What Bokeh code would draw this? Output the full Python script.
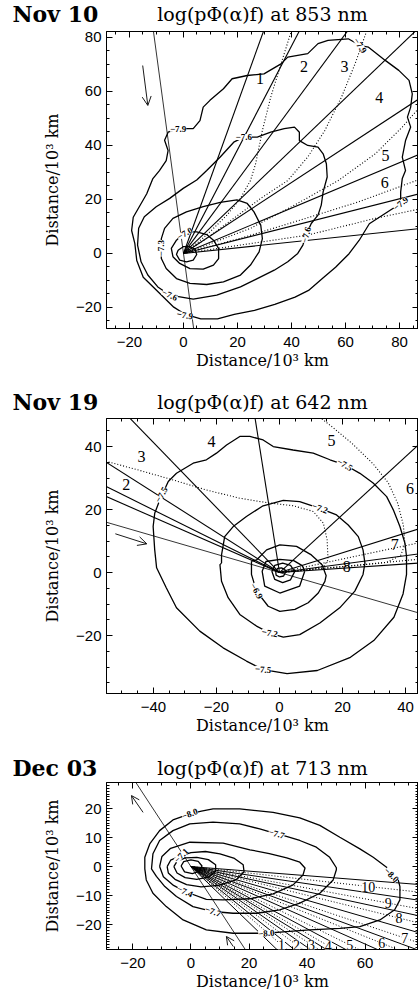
import math
from bokeh.plotting import figure
from bokeh.models import (ColumnDataSource, LabelSet, Arrow, OpenHead,
                          LinearAxis, FixedTicker, Range1d, CustomJSTickFormatter)
from bokeh.layouts import column
from bokeh.embed import file_html
from bokeh.resources import INLINE
from bokeh.core.properties import value

SERIF = "DejaVu Serif"
SANS = "Liberation Sans"
AXIS_TITLE = "Distance/10³ km"

# ---------------- Nov 10, 853 nm ----------------
NOV10_TICKS_X = [-20, 0, 20, 40, 60, 80]
NOV10_TICKS_Y = [-20, 0, 20, 40, 60, 80]
NOV10_SOLID_DEG = [70.2, 62.5, 53.6, 43.8, 33.3, 22.8, 14.2, 6.0]
NOV10_SUN_DEG = 97.7
NOV10_SECTOR_TEXT = ["1", "2", "3", "4", "5", "6"]
NOV10_SECTOR_X = [28.3, 44.6, 59.6, 72.5, 74.8, 74.5]
NOV10_SECTOR_Y = [64.9, 69.3, 69.3, 57.9, 36.3, 26.3]
NOV10_DOTTED = [
    [(0, 0), (4.9, 3.7), (9.8, 8), (16.1, 14.2), (21.1, 20.4), (24.8, 27), (26.7, 33.2),
     (29.2, 45.5), (32.3, 57.9), (36.1, 70.2), (40, 82.6), (41, 86)],
    [(0, 0), (8.6, 5.6), (18.6, 13), (28.6, 20.4), (38.6, 27), (46, 35.7), (52.3, 45.5),
     (58.5, 57.9), (63.5, 70.2), (67.9, 82.6), (69, 86)],
    [(0, 0), (8.6, 3.1), (24.8, 9.3), (41.1, 17.9), (57.3, 27), (71, 36.9), (81, 46.8), (90, 57)],
    [(0, 0), (21.1, 5.6), (41.1, 11.7), (64.8, 19.1), (90, 28.4)],
    [(0, 0), (21.1, 3.1), (46, 6.8), (71, 13), (90, 17)],
]
NOV10_LEVEL_79 = [(80.4, 18.5), (80.4, 22.8), (81, 27.8), (82.2, 30.7), (81, 35.7), (82.2, 41.8),
                  (84.1, 46.8), (82.9, 50.5), (84.1, 54.2), (84.7, 59.1), (83.5, 64.1), (79.7, 67.8),
                  (74.7, 71.5), (68.5, 76.4), (65.4, 77.0), (61, 79.5), (53.5, 78.9), (49.8, 77.7),
                  (46, 74), (38.6, 72.7), (36.1, 70.2), (29.8, 66.5), (23.6, 65.9), (18, 64.7),
                  (14.8, 61), (9.8, 56.7), (7.3, 54.2), (6.1, 49.2), (3.6, 46.2), (-2, 46.2),
                  (-5.7, 44.9), (-7, 41.9), (-5.7, 38.1), (-6.4, 34.4), (-8.9, 30.7), (-11.4, 27.6),
                  (-13.6, 22.1), (-18.6, 13.4), (-19.2, 8.5), (-18, 3.6), (-17.3, -2.6), (-14.9, -8.8),
                  (-9.9, -13.7), (-3.6, -19.9), (0.7, -22.6), (6.4, -24.2), (12.6, -24.2), (18.8, -22.6),
                  (26.3, -21.1), (33.8, -18.9), (41.3, -16.2), (46.3, -13.7), (51.3, -9.4), (56.3, -5.1),
                  (61.3, -0.1), (65, 4.8), (68.8, 11), (72.5, 13.4), (76.5, 16), (80.4, 18.5)]
NOV10_LEVEL_76 = [(22.3, 43.1), (27.3, 43.1), (32.3, 44.9), (37.3, 46.2), (41.1, 46.8), (42.9, 44.9),
                  (42.9, 41.8), (46, 40), (49.8, 39.4), (51.7, 36.9), (52.9, 33.2), (53.2, 28.3),
                  (51.7, 22.8), (51, 17.9), (49.8, 14.2), (47.3, 11.1), (45.4, 6.8), (44.2, 3.1),
                  (42.3, 0), (38.6, -3.1), (33.6, -6.2), (27.3, -9.3), (21.1, -12.4), (12.3, -15.4),
                  (3.6, -16.9), (-5.1, -15.4), (-9.5, -12.4), (-13.2, -8), (-15.7, -3.1), (-17, 3.1),
                  (-16.6, 9.3), (-14.5, 13.6), (-10.1, 17.3), (-5.1, 20.4), (-0.1, 24.1), (4.9, 27.2),
                  (8.6, 30.7), (13.6, 35.7), (18.6, 41.2), (22.3, 43.1)]
NOV10_LEVEL_73 = [(-8.3, 1.9), (-8.2, -1.9), (-6.4, -5.6), (-2.6, -9.3), (2.4, -11.1), (8.6, -11.5),
                  (14.8, -10.5), (21.1, -8.0), (24.8, -4.3), (28, 0.6), (29.2, 5.5), (28.6, 10.5),
                  (26.1, 15.4), (23.6, 18.5), (19.8, 19.8), (13.6, 18.9), (7.3, 17.3), (1.1, 15.4),
                  (-3.9, 13), (-7, 9.3), (-8.2, 5.5), (-8.3, 1.9)]
NOV10_LEVEL_70 = [(0.5, 7.8), (-2.6, 4.9), (-4.5, 1.9), (-3.9, -1.2), (-1.4, -3.7), (2.4, -5.6),
                  (7.3, -5.8), (11.1, -4.3), (13, -1.9), (13, 1.9), (11.1, 4.9), (8.6, 7), (4.9, 8),
                  (2.4, 8), (0.5, 7.8)]
NOV10_LEVEL_67 = [(-2, 1.2), (-2.6, -0.4), (-1.4, -2.5), (1.1, -3.1), (3.6, -2.5), (4.9, -0.4),
                  (4.2, 1.6), (2.4, 2.5), (-0.1, 2.5), (-2, 1.2)]
NOV10_CLABEL_TEXT = ["−7.9", "−7.9", "−7.6", "−7.6", "−7.9", "−7.3", "−7.6", "−7.9", "−7.0"]
NOV10_CLABEL_X = [-2.0, 65.4, 22.3, 45.4, 80.4, -8.3, -5.1, 0.5, 0.5]
NOV10_CLABEL_Y = [46.2, 77.0, 43.1, 6.8, 18.5, 1.9, -15.4, -22.9, 7.4]
NOV10_CLABEL_DEG = [0, -55, 0, 75, 40, 90, -25, -10, 30]
NOV10_ARROW = [(-15.1, 69.6), (-13.2, 54.8)]

# ---------------- Nov 19, 642 nm ----------------
NOV19_TICKS_X = [-40, -20, 0, 20, 40]
NOV19_TICKS_Y = [-20, 0, 20, 40]
NOV19_SOLID_DEG = [3.9, 7.6, 17.4, 42.6, 99.0, 134.1, 147.5, 153.6, 156.3]
NOV19_SUN_DEG = 163.8
NOV19_SECTOR_TEXT = ["2", "3", "4", "5", "6", "7", "8"]
NOV19_SECTOR_X = [-48.6, -43.8, -21.6, 16.5, 41.4, 36.6, 21.3]
NOV19_SECTOR_Y = [27.8, 36.8, 41.6, 41.9, 26.8, 8.8, 2.0]
NOV19_DOTTED = [
    [(0, 0), (12, 1.2), (24, 2.2), (34, 3.2), (38.5, 5.5), (39.8, 9), (39.3, 15), (37.5, 22),
     (34.5, 28.5), (29.7, 34.5), (23, 41), (17, 46), (12.5, 49.5), (10, 52)],
    [(0, 0), (9, 0.8), (14, 2), (15.4, 4), (15.1, 10.4), (13.9, 15.7), (10.7, 19.4), (4.3, 21.2),
     (-4.1, 22.2), (-12.6, 23.6), (-23.2, 26.2), (-33.8, 29.4), (-44.3, 32.4), (-56, 35.6)],
    [(0, 0), (20, 4.3), (46, 9.8)],
    [(0, 0), (22, 2.1), (46, 4.4)],
]
NOV19_LEVEL_75 = [(-38, 23), (-35.3, 28.9), (-32.7, 31.5), (-27.4, 34.7), (-23.2, 35.8), (-20, 37.9),
                  (-16.8, 40.5), (-12.6, 43.2), (-9.4, 43.2), (-5.2, 42.1), (-2, 40), (4.3, 38.9),
                  (10.7, 37.9), (16, 35.8), (20.7, 34.2), (25.5, 31.5), (29.7, 28.4), (34, 24.1),
                  (36.1, 19.9), (38.2, 14.6), (39.8, 9.3), (40.3, 5.1), (40.3, -0.6), (39.2, -6.8),
                  (36.3, -14.2), (29.9, -21.6), (22.5, -26.9), (12, -31.1), (2.4, -32.1), (-5.2, -30.8),
                  (-10.5, -28.1), (-17.9, -23.9), (-25.3, -18.6), (-32.7, -11.2), (-35.9, -4.9),
                  (-39, 1.5), (-39.6, 7.2), (-40.1, 14.6), (-39.6, 18.8), (-38, 23)]
NOV19_LEVEL_72 = [(-18.4, 3), (-18.4, 5.6), (-17.4, 11.4), (-14.7, 14.6), (-10.5, 17.8), (-5.2, 21.2),
                  (1.2, 22.9), (6.4, 22.5), (12.8, 20.4), (18.1, 18.3), (21.8, 15.1), (25, 11.4),
                  (26.5, 7.2), (27.1, 3), (26.5, -0.6), (23.9, -5.9), (19.1, -11.2), (12.8, -16),
                  (6.4, -19.7), (1.2, -20.5), (-3.1, -19.2), (-7.3, -17), (-12.6, -13.3), (-16.3, -8),
                  (-18.4, -2.8), (-18.9, 2.5), (-18.4, 3)]
NOV19_LEVEL_69 = [(-8.9, 3.6), (-7.3, 4), (-4.1, 7.2), (0.1, 8.8), (5.4, 8.3), (10.1, 5.6),
                  (13.5, 2.5), (14.8, -1), (14.4, -2.8), (12.3, -6.5), (9.1, -9.6), (4.9, -11.7),
                  (0.1, -12.3), (-3.6, -10.7), (-7.3, -5.9), (-8.9, -0.6), (-8.9, 3.6)]
NOV19_LEVEL_66 = [(8, 0.4), (6.4, -4.3), (0.1, -6.5), (-4.7, -4.3), (-5.5, 0.4), (-4.3, 3.5),
                  (0.1, 4.2), (4.5, 3.8), (7.2, 2.2), (8, 0.4)]
NOV19_LEVEL_63 = [(4.8, 0.3), (3.5, -2.3), (1, -3.2), (-1.5, -2.2), (-2.4, 0.3), (-1.5, 2.3),
                  (1, 3), (3.5, 2.3), (4.8, 0.3)]
NOV19_LEVEL_60 = [(2, 0.3), (1.3, -1.1), (0, -1.4), (-1.1, -0.8), (-1.2, 0.4), (-0.6, 1.3),
                  (0.6, 1.5), (1.6, 1.1), (2, 0.3)]
NOV19_CLABEL_TEXT = ["−7.5", "−7.5", "−7.2", "−6.9", "−7.2", "−7.5"]
NOV19_CLABEL_X = [20.7, -37.5, 12.8, -7.3, -3.1, -5.2]
NOV19_CLABEL_Y = [34.2, 24.7, 20.4, -5.9, -19.2, -30.8]
NOV19_CLABEL_DEG = [-30, 60, -20, -60, -10, -5]
NOV19_ARROW = [(-52.1, 12.3), (-42.1, 9.1)]

# ---------------- Dec 03, 713 nm ----------------
DEC03_TICKS_X = [-20, 0, 20, 40, 60]
DEC03_TICKS_Y = [-20, -10, 0, 10, 20]
DEC03_SOLID_DEG = [-44.0, -38.8, -34.8, -31.5, -28.2, -24.0, -20.2, -16.2, -12.2, -8.4, -4.5]
DEC03_DOTTED_DEG = [-40.9, -36.6, -33.0, -30.0, -26.3, -21.9, -18.5, -13.9, -10.5, -6.4]
DEC03_SUN_DEG = 123.2
DEC03_SECTOR_TEXT = ["1", "2", "3", "4", "5", "6", "7", "8", "9", "10"]
DEC03_SECTOR_X = [31.2, 36.4, 41.5, 47.3, 54.7, 65.7, 73.7, 71.7, 68.0, 61.1]
DEC03_SECTOR_Y = [-27.0, -27.0, -27.0, -27.3, -27.0, -26.4, -24.7, -17.8, -12.6, -6.9]
DEC03_LEVEL_80 = [(-0.4, 18.2), (-6.2, 16.1), (-10.8, 12.4), (-14.2, 7.8), (-15.9, 3.2), (-15.9, -0.8),
                  (-15.4, -4.6), (-13.1, -9.2), (-8.5, -13.8), (-2.7, -18.4), (5.3, -21.8), (14.5, -23),
                  (26, -23), (32.9, -22.4), (40.9, -21.8), (51.3, -21.3), (58.2, -20.7), (65.1, -18.4),
                  (70.2, -14.9), (72, -11.5), (72, -6.9), (71.4, -4.6), (69.1, -2.9), (67.4, -0.2),
                  (62.8, 3.2), (58.2, 6.1), (51.3, 10.1), (44.4, 14.2), (37.5, 16.8), (28.3, 18.7),
                  (16.8, 19.9), (7.6, 19.9), (3.6, 19.1), (-0.4, 18.2)]
DEC03_LEVEL_77 = [(29.5, 11.3), (23.7, 13), (16.8, 14.7), (7.6, 15.3), (-0.4, 14.7), (-6.2, 12.4),
                  (-10.8, 9), (-13.1, 4.4), (-13.6, -0.8), (-11.9, -3.4), (-9, -6.9), (-5, -10.3),
                  (0.7, -13.8), (7.6, -15.5), (14.5, -16.1), (22.6, -16.1), (30.6, -14.9), (37.5, -12.6),
                  (44.4, -9.2), (49, -4.6), (50.1, -1.1), (50.1, -0.4), (47.8, 3.2), (43.2, 6.7),
                  (37.5, 9), (32.9, 10.4), (29.5, 11.3)]
DEC03_LEVEL_74 = [(-10.8, 0), (-10, 3.5), (-7, 6.3), (-0.4, 8.4), (11.1, 8.1), (20.3, 5.8), (27, 4.5),
                  (33, 3), (37.5, 1.5), (39.3, -0.5), (38.6, -2.9), (35.2, -6.3), (28.3, -9.4),
                  (20.3, -11.1), (11, -11.5), (5.3, -11.3), (-2.1, -8.6), (-6, -6.5), (-9.5, -3.5),
                  (-10.8, 0)]
DEC03_LEVEL_71 = [(-8.2, 0), (-7, 2.2), (-3.3, 3.8), (0, 4.8), (5, 5.2), (10, 4.4), (15, 2.8),
                  (18, 0.6), (18.3, -1.8), (15.5, -4.6), (9.5, -6.5), (3.5, -7), (-1.5, -6.2),
                  (-5.5, -4.4), (-7.8, -2.2), (-8.2, 0)]
DEC03_LEVEL_68 = [(-5.9, 0), (-4.8, 1.8), (-2, 3), (2, 3.2), (6, 2.4), (8.5, 0.6), (8.5, -1.6),
                  (6, -3.6), (2, -4.4), (-2, -3.8), (-4.8, -2.2), (-5.9, 0)]
DEC03_LEVEL_65 = [(-3.4, 0.2), (-2.5, 1.7), (0, 2.3), (2.5, 1.8), (3.8, 0.2), (3, -1.6), (0.5, -2.4),
                  (-2.2, -1.8), (-3.4, 0.2)]
DEC03_CLABEL_TEXT = ["−8.0", "−7.7", "−7.1", "−7.4", "−7.7", "−8.0", "−8.0"]
DEC03_CLABEL_X = [-0.4, 29.5, -3.3, -2.1, 7.6, 26.0, 69.1]
DEC03_CLABEL_Y = [18.2, 11.3, 3.8, -8.6, -15.5, -23.0, -2.9]
DEC03_CLABEL_DEG = [20, -15, 45, -25, -20, 5, -45]
DEC03_ARROWS = [[(-16.5, 18.7), (-20.5, 24.5)], [(14.6, -27.6), (12.2, -24.1)]]

RAY = 300.0


def minus_formatter():
    return CustomJSTickFormatter(
        code="return (tick < 0 ? '\\u2212' : '') + Math.abs(tick).toFixed(0);")


def blank_formatter():
    return CustomJSTickFormatter(code="return '';")


def header(height, date, title, baseline):
    # strip above a panel carrying the date and the quantity shown
    h = figure(width=418, height=height, x_range=Range1d(0, 418), y_range=Range1d(0, height),
               output_backend="svg", toolbar_location=None, title=None,
               min_border_left=0, min_border_right=0, min_border_top=0, min_border_bottom=0,
               x_axis_location=None, y_axis_location=None)
    h.frame_align = False
    h.grid.visible = False
    h.outline_line_color = None
    h.text(x=[12], y=[baseline], text=[date], text_font=value(SERIF), text_font_style="bold",
           text_font_size="22px", text_baseline="alphabetic", text_align="left", text_color="black")
    h.text(x=[262], y=[baseline], text=[title], text_font=value(SERIF), text_font_size="19px",
           text_baseline="alphabetic", text_align="center", text_color="black")
    return h


def make_panel(height, top, bottom, xr, yr, xt, yt, xminor, yminor):
    p = figure(width=418, height=height, x_range=Range1d(*xr), y_range=Range1d(*yr),
               output_backend="svg", toolbar_location=None, title=None,
               min_border_left=106, min_border_right=0,
               min_border_top=top, min_border_bottom=bottom)
    p.grid.visible = False
    p.outline_line_color = "black"
    p.outline_line_width = 1
    p.background_fill_color = "white"
    p.border_fill_color = "white"
    xa, ya = p.xaxis[0], p.yaxis[0]
    for ax, ticks, minor in ((xa, xt, xminor), (ya, yt, yminor)):
        ax.ticker = FixedTicker(ticks=ticks, minor_ticks=minor)
        ax.formatter = minus_formatter()
        ax.major_tick_in = 6
        ax.major_tick_out = 0
        ax.minor_tick_in = 3
        ax.minor_tick_out = 0
        ax.major_label_text_font = SANS
        ax.major_label_text_font_size = "15px"
        ax.major_label_text_color = "black"
        ax.axis_label = AXIS_TITLE
        ax.axis_label_text_font = SERIF
        ax.axis_label_text_font_size = "16px"
        ax.axis_label_text_font_style = "normal"
        ax.axis_label_text_color = "black"
    xa.major_label_standoff = 8
    xa.axis_label_standoff = 1
    ya.major_label_standoff = 5
    ya.axis_label_standoff = 11
    for loc, ticks, minor in (("above", xt, xminor), ("right", yt, yminor)):
        ax = LinearAxis(ticker=FixedTicker(ticks=ticks, minor_ticks=minor),
                        formatter=blank_formatter(),
                        major_label_text_font_size="0px", major_label_standoff=0,
                        major_tick_in=6, major_tick_out=0, minor_tick_in=3, minor_tick_out=0)
        p.add_layout(ax, loc)
    return p


def draw_levels(p, levels):
    p.multi_line(xs=[[q[0] for q in lv] for lv in levels],
                 ys=[[q[1] for q in lv] for lv in levels],
                 line_color="black", line_width=1.3)


def draw_rays(p, degs, dash=None, width=1.1):
    x1 = [RAY * math.cos(math.radians(a)) for a in degs]
    y1 = [RAY * math.sin(math.radians(a)) for a in degs]
    kw = dict(line_dash=dash) if dash else {}
    p.segment(x0=[0] * len(degs), y0=[0] * len(degs), x1=x1, y1=y1,
              line_color="black", line_width=width, **kw)


def draw_sun_line(p, deg):
    c, s = math.cos(math.radians(deg)), math.sin(math.radians(deg))
    p.segment(x0=[-RAY * c], y0=[-RAY * s], x1=[RAY * c], y1=[RAY * s],
              line_color="black", line_width=0.8)


def draw_dotted_paths(p, paths):
    p.multi_line(xs=[[q[0] for q in d] for d in paths], ys=[[q[1] for q in d] for d in paths],
                 line_color="black", line_width=1.1, line_dash="1 2")


def contour_labels(p, text, xs, ys, degs):
    src = ColumnDataSource(dict(x=xs, y=ys, text=text, angle=degs))
    p.add_layout(LabelSet(x="x", y="y", text="text", angle="angle", angle_units="deg", source=src,
                          text_font=SANS, text_font_size="9px", text_font_style="bold",
                          text_color="black", text_align="center", text_baseline="middle",
                          background_fill_color="white"))


def sector_labels(p, text, xs, ys, size, boxed=False):
    src = ColumnDataSource(dict(x=xs, y=ys, text=text))
    kw = dict(background_fill_color="white") if boxed else {}
    p.add_layout(LabelSet(x="x", y="y", text="text", source=src, text_font=SERIF,
                          text_font_size=size, text_color="black",
                          text_align="center", text_baseline="middle", **kw))


def arrow(p, pts, size=9):
    (xa, ya), (xb, yb) = pts
    p.add_layout(Arrow(end=OpenHead(size=size, line_width=0.9, line_color="black"),
                       x_start=xa, y_start=ya, x_end=xb, y_end=yb,
                       line_color="black", line_width=0.9))


# ---- panel 1
h1 = header(27, "Nov 10", "log(pΦ(α)f) at 853 nm", 14)
p1 = make_panel(348, 4, 47, (-28.5, 87.0), (-27.8, 82.2), NOV10_TICKS_X, NOV10_TICKS_Y,
                list(range(-25, 90, 5)), list(range(-25, 85, 5)))
draw_levels(p1, [NOV10_LEVEL_79, NOV10_LEVEL_76, NOV10_LEVEL_73, NOV10_LEVEL_70, NOV10_LEVEL_67])
draw_rays(p1, NOV10_SOLID_DEG)
draw_dotted_paths(p1, NOV10_DOTTED)
draw_sun_line(p1, NOV10_SUN_DEG)
contour_labels(p1, NOV10_CLABEL_TEXT, NOV10_CLABEL_X, NOV10_CLABEL_Y, NOV10_CLABEL_DEG)
sector_labels(p1, NOV10_SECTOR_TEXT, NOV10_SECTOR_X, NOV10_SECTOR_Y, "16px")
arrow(p1, NOV10_ARROW)

# ---- panel 2
h2 = header(43, "Nov 19", "log(pΦ(α)f) at 642 nm", 17)
p2 = make_panel(322, 0, 47, (-54.9, 44.1), (-38.4, 48.9), NOV19_TICKS_X, NOV19_TICKS_Y,
                list(range(-55, 45, 5)), list(range(-35, 50, 5)))
draw_levels(p2, [NOV19_LEVEL_75, NOV19_LEVEL_72, NOV19_LEVEL_69, NOV19_LEVEL_66,
                 NOV19_LEVEL_63, NOV19_LEVEL_60])
draw_rays(p2, NOV19_SOLID_DEG)
draw_dotted_paths(p2, NOV19_DOTTED)
draw_sun_line(p2, NOV19_SUN_DEG)
contour_labels(p2, NOV19_CLABEL_TEXT, NOV19_CLABEL_X, NOV19_CLABEL_Y, NOV19_CLABEL_DEG)
sector_labels(p2, NOV19_SECTOR_TEXT, NOV19_SECTOR_X, NOV19_SECTOR_Y, "16px")
arrow(p2, NOV19_ARROW)

# ---- panel 3
h3 = header(42, "Dec 03", "log(pΦ(α)f) at 713 nm", 15)
p3 = make_panel(216, 0, 49, (-29.1, 78.4), (-28.6, 29.0), DEC03_TICKS_X, DEC03_TICKS_Y,
                list(range(-25, 80, 5)), list(range(-28, 29, 1)))
draw_levels(p3, [DEC03_LEVEL_80, DEC03_LEVEL_77, DEC03_LEVEL_74, DEC03_LEVEL_71,
                 DEC03_LEVEL_68, DEC03_LEVEL_65])
draw_rays(p3, DEC03_SOLID_DEG, width=1.0)
draw_rays(p3, DEC03_DOTTED_DEG, dash="1 2", width=1.0)
draw_sun_line(p3, DEC03_SUN_DEG)
contour_labels(p3, DEC03_CLABEL_TEXT, DEC03_CLABEL_X, DEC03_CLABEL_Y, DEC03_CLABEL_DEG)
sector_labels(p3, DEC03_SECTOR_TEXT, DEC03_SECTOR_X, DEC03_SECTOR_Y, "14px", boxed=True)
for a in DEC03_ARROWS:
    arrow(p3, a, size=8)

layout = column(h1, p1, h2, p2, h3, p3, spacing=0)
open("out.html", "w").write(file_html(layout, INLINE))
